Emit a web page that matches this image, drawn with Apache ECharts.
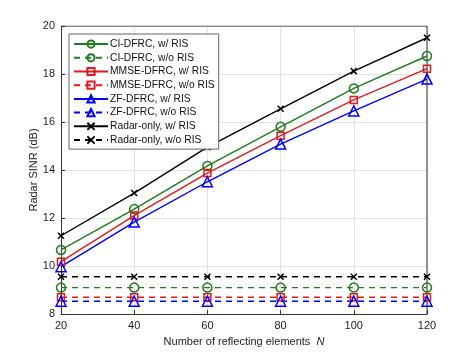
<!DOCTYPE html>
<html>
<head>
<meta charset="utf-8">
<script src="https://cdn.jsdelivr.net/npm/echarts@6/dist/echarts.min.js"></script>
<style>
  html, body { margin: 0; padding: 0; background: #fff; }
  #chart { width: 471px; height: 353px; }
</style>
</head>
<body>
<div id="chart"></div>
<script>
const elements = [20, 40, 60, 80, 100, 120];
const ciWith = [10.67, 12.37, 14.17, 15.8, 17.4, 18.75];
const ciWithout = [9.1, 9.1, 9.1, 9.1, 9.1, 9.1];
const mmseWith = [10.18, 12.1, 13.87, 15.43, 16.92, 18.22];
const mmseWithout = [8.7, 8.7, 8.7, 8.7, 8.7, 8.7];
const zfWith = [9.97, 11.83, 13.51, 15.08, 16.46, 17.79];
const zfWithout = [8.53, 8.53, 8.53, 8.53, 8.53, 8.53];
const radarWith = [11.26, 13.04, 14.95, 16.55, 18.12, 19.51];
const radarWithout = [9.55, 9.55, 9.55, 9.55, 9.55, 9.55];

const green = "#1e7b1e";
const red = "#e31a1c";
const blue = "#0000ff";
const black = "#000000";
const cross = "path://M0,0L10,10M0,10L10,0";

function pairs(vals) {
  return elements.map((n, i) => [n, vals[i]]);
}

function makeSeries(name, vals, color, symbol, size, dashed) {
  return {
    name: name,
    type: "line",
    data: pairs(vals),
    symbol: symbol,
    symbolSize: size,
    lineStyle: { color: color, width: 1.4, type: dashed ? [6, 5] : "solid" },
    itemStyle: { color: "none", borderColor: color, borderWidth: 1.5 },
    emphasis: { disabled: true },
  };
}

const chart = echarts.init(document.getElementById("chart"));
const option = {
  animation: false,
  backgroundColor: "#fff",
  textStyle: { fontFamily: "Liberation Sans, Arial, sans-serif" },
  grid: { left: 61, right: 44, top: 26, bottom: 39 },
  legend: {
    left: 69,
    top: 34,
    orient: "vertical",
    itemWidth: 34,
    itemHeight: 9,
    itemGap: 1.5,
    padding: [4, 4, 3, 4],
    backgroundColor: "#fff",
    borderColor: "#666",
    borderWidth: 1,
    textStyle: { fontSize: 10.3, color: "#111", padding: [0, 0, 0, -3] },
    data: [
      "CI-DFRC, w/ RIS", "CI-DFRC, w/o RIS",
      "MMSE-DFRC, w/ RIS", "MMSE-DFRC, w/o RIS",
      "ZF-DFRC, w/ RIS", "ZF-DFRC, w/o RIS",
      "Radar-only, w/ RIS", "Radar-only, w/o RIS",
    ],
  },
  xAxis: {
    type: "value",
    min: 20,
    max: 120,
    interval: 20,
    name: "Number of reflecting elements  {i|N}",
    nameLocation: "middle",
    nameGap: 22,
    nameMoveOverlap: false,
    nameTextStyle: { fontSize: 11, color: "#222", rich: { i: { fontStyle: "italic", fontSize: 11 } } },
    axisLine: { show: true, onZero: false, lineStyle: { color: "#333" } },
    axisTick: { inside: true, length: 4, lineStyle: { color: "#333" } },
    axisLabel: { fontSize: 11, color: "#222", margin: 6 },
    splitLine: { show: true, lineStyle: { color: "#e3e3e3" } },
  },
  yAxis: {
    type: "value",
    min: 8,
    max: 20,
    interval: 2,
    name: "Radar SINR (dB)",
    nameLocation: "middle",
    nameGap: 22,
    nameMoveOverlap: false,
    nameTextStyle: { fontSize: 11, color: "#222" },
    axisLine: { show: true, onZero: false, lineStyle: { color: "#333" } },
    axisTick: { show: true, inside: true, length: 4, lineStyle: { color: "#333" } },
    axisLabel: { fontSize: 11, color: "#222", margin: 6 },
    splitLine: { show: true, lineStyle: { color: "#e3e3e3" } },
  },
  series: [
    makeSeries("CI-DFRC, w/ RIS", ciWith, green, "circle", 9, false),
    makeSeries("CI-DFRC, w/o RIS", ciWithout, green, "circle", 9, true),
    makeSeries("MMSE-DFRC, w/ RIS", mmseWith, red, "rect", 7, false),
    makeSeries("MMSE-DFRC, w/o RIS", mmseWithout, red, "rect", 7, true),
    makeSeries("ZF-DFRC, w/ RIS", zfWith, blue, "triangle", 10, false),
    makeSeries("ZF-DFRC, w/o RIS", zfWithout, blue, "triangle", 10, true),
    makeSeries("Radar-only, w/ RIS", radarWith, black, cross, 6, false),
    makeSeries("Radar-only, w/o RIS", radarWithout, black, cross, 6, true),
    {
      // box on top and right
      type: "line",
      data: [[20, 20], [120, 20], [120, 8]],
      symbol: "none",
      silent: true,
      lineStyle: { color: "#333", width: 1 },
      z: 1,
    },
  ],
};
chart.setOption(option);
</script>
</body>
</html>
